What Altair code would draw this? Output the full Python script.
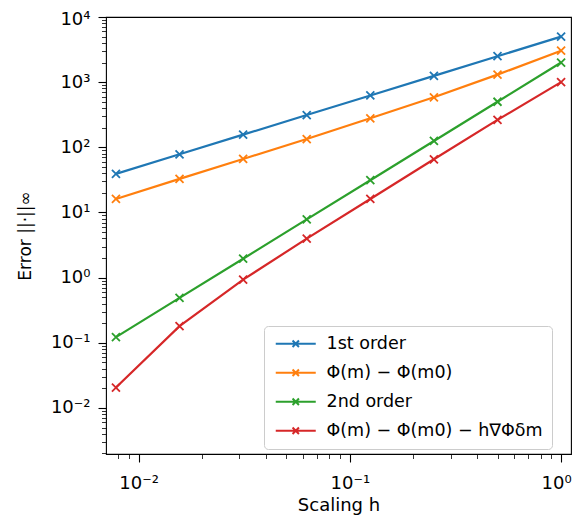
import altair as alt
import pandas as pd

h = [1/128, 1/64, 1/32, 1/16, 1/8, 1/4, 1/2, 1.0]
series_names = ["1st order", "Φ(m) − Φ(m0)", "2nd order", "Φ(m) − Φ(m0) − h∇Φδm"]
first_order = [39.06, 78.1, 156.3, 312.5, 625, 1250, 2500, 5000]
phi_diff = [16.1, 32.7, 66.2, 134, 279, 586, 1303, 3040]
second_order = [0.122, 0.488, 1.95, 7.81, 31.25, 125, 500, 2000]
phi_taylor = [0.0205, 0.18, 0.93, 3.96, 16.1, 65.5, 263, 1000]
colors = ["#1f77b4", "#ff7f0e", "#2ca02c", "#d62728"]

rows = []
for k, (name, vals) in enumerate(zip(series_names, [first_order, phi_diff, second_order, phi_taylor])):
    for hx, v in zip(h, vals):
        rows.append({"h": hx, "err": v, "series": name, "order": k})
df = pd.DataFrame(rows)

x_ticks = [m * 10.0**k for k in (-3, -2, -1) for m in range(1, 10)] + [1.0]
x_ticks = [t for t in x_ticks if 0.007 <= t <= 1.11]
y_ticks = [m * 10.0**k for k in range(-3, 4) for m in range(1, 10)] + [10000.0]
y_ticks = [t for t in y_ticks if 0.00196 <= t <= 10000.5]

is_dec = "abs(log(datum.value)/LN10 - round(log(datum.value)/LN10)) < 0.001"
lab = ("(" + is_dec + ") ? '10' + ['⁻³','⁻²','⁻¹','⁰','¹','²','³','⁴'][round(log(datum.value)/LN10)+3] : ''")

def make_axis(title, vals, **kw):
    return alt.Axis(
        title=title, values=vals, labelExpr=lab, grid=False, domain=False,
        tickColor="black", labelColor="black", titleColor="black",
        tickSize={"condition": {"test": is_dec, "value": 8}, "value": 4.5},
        tickWidth={"condition": {"test": is_dec, "value": 1.1}, "value": 0.8},
        labelOverlap=False, labelFlush=False, labelFontSize=18,
        labelFont="DejaVu Sans", titleFont="DejaVu Sans", titleFontWeight="normal",
        **kw,
    )

xscale = alt.Scale(type="log", domain=[0.00701, 1.114], nice=False)
yscale = alt.Scale(type="log", domain=[0.00196, 10000], nice=False)
cscale = alt.Scale(domain=series_names, range=colors)

base = alt.Chart(df).encode(
    x=alt.X("h:Q", scale=xscale, axis=make_axis(
        "Scaling h", x_ticks, labelPadding=12, titleFontSize=18,
        titleBaseline="alphabetic", titleY=56,
        labelOffset={"condition": {"test": "datum.value > 0.9", "value": -5}, "value": 0})),
    y=alt.Y("err:Q", scale=yscale, axis=make_axis(
        "Error ||·||∞", y_ticks, labelPadding=8, titlePadding=16, titleFontSize=17,
        labelOffset={"condition": {"test": "datum.value > 5000", "value": 2}, "value": 0})),
)

lines = base.mark_line(strokeWidth=2.2).encode(
    color=alt.Color("series:N", scale=cscale, sort=series_names, legend=alt.Legend(
        title=None, orient="none", legendX=158, legendY=309,
        symbolType="M-5,0L5,0M-0.8,-0.8L0.8,0.8M-0.8,0.8L0.8,-0.8",
        symbolSize=64, symbolStrokeWidth=2, symbolFillColor="transparent",
        symbolOffset=14, labelOffset=22,
        labelFontSize=17.5, labelFont="DejaVu Sans", labelColor="black",
        rowPadding=10, padding=9,
        strokeColor="#cccccc", fillColor="white", cornerRadius=4,
        labelLimit=400,
    )),
    detail="series:N",
    order="order:Q",
)
points = base.mark_point(shape="M-1,-1L1,1M-1,1L1,-1", filled=False, strokeWidth=1.8, size=64, opacity=1).encode(
    color=alt.Color("series:N", scale=cscale, legend=None),
)

chart = alt.layer(lines, points).properties(
    width=465, height=437, padding={"left": 98, "top": 9, "right": 2, "bottom": 61},
    autosize=alt.AutoSizeParams(type="none"), background="white",
).configure_view(stroke="black", strokeWidth=1.1)

chart.save("out.html", embed_options={"renderer": "svg", "actions": False})
